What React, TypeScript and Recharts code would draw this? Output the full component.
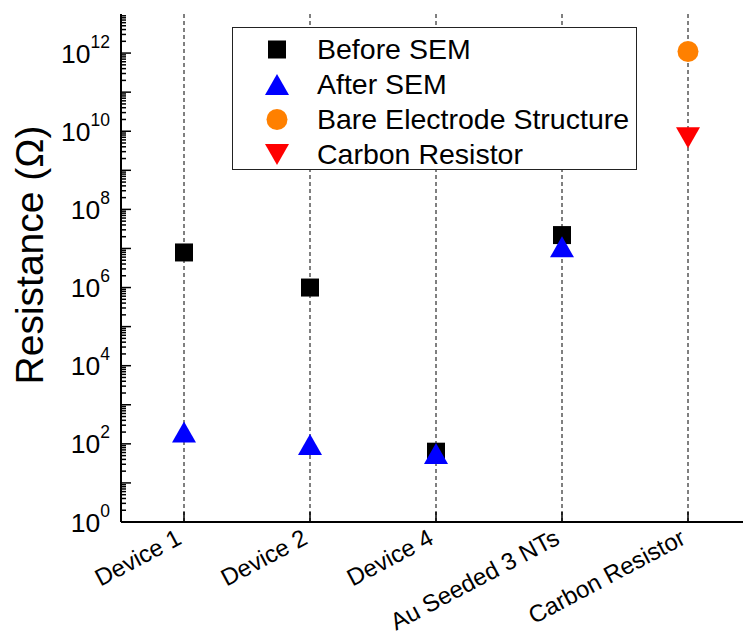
import { ComposedChart, Scatter, XAxis, YAxis, CartesianGrid, Legend } from 'recharts';

const categories = ['Device 1', 'Device 2', 'Device 4', 'Au Seeded 3 NTs', 'Carbon Resistor'];
const beforeSem = [7.9e6, 1.0e6, 63, 2.2e7, null];
const afterSem = [200, 96, 57, 1.1e7, null];
const bareElectrode = [null, null, null, null, 1.1e12];
const carbonResistor = [null, null, null, null, 6.8e9];

const decades = [0, 1, 2, 3, 4, 5, 6, 7, 8, 9, 10, 11, 12];
const labelledDecades = [0, 2, 4, 6, 8, 10, 12];
const minorSteps = [2, 3, 4, 5, 6, 7, 8, 9];

const FONT = '"Liberation Sans", Arial, sans-serif';

type Kind = 'square' | 'up' | 'circle' | 'down';

const series: { key: string; name: string; kind: Kind; color: string }[] = [
  { key: 'before', name: 'Before SEM', kind: 'square', color: '#000000' },
  { key: 'after', name: 'After SEM', kind: 'up', color: '#0000ff' },
  { key: 'bare', name: 'Bare Electrode Structure', kind: 'circle', color: '#ff8000' },
  { key: 'carbon', name: 'Carbon Resistor', kind: 'down', color: '#ff0000' },
];

const rows = categories.map((name, i) => ({
  name,
  before: beforeSem[i],
  after: afterSem[i],
  bare: bareElectrode[i],
  carbon: carbonResistor[i],
}));

const majorValues = decades.map((d) => Math.pow(10, d));
const yTicks = [
  ...majorValues,
  ...decades.flatMap((d) => minorSteps.map((m) => m * Math.pow(10, d))),
].sort((a, b) => a - b);

const isMajor = (v: number) => majorValues.some((m) => Math.abs(m - v) < m * 1e-9);
const exponentOf = (v: number) => Math.round(Math.log10(v));

const Marker = ({ kind, cx, cy, color }: { kind: Kind; cx: number; cy: number; color: string }) => {
  if (kind === 'square') return <rect x={cx - 9} y={cy - 9} width={18} height={18} fill={color} />;
  if (kind === 'circle') return <circle cx={cx} cy={cy} r={10.5} fill={color} />;
  if (kind === 'up')
    return <polygon points={`${cx},${cy - 10.5} ${cx + 12},${cy + 10.5} ${cx - 12},${cy + 10.5}`} fill={color} />;
  return <polygon points={`${cx - 12},${cy - 10.5} ${cx + 12},${cy - 10.5} ${cx},${cy + 10.5}`} fill={color} />;
};

const LeftTick = (props: any) => {
  const { x, y, payload } = props;
  const v = payload.value;
  const major = isMajor(v);
  const e = exponentOf(v);
  return (
    <g>
      <line x1={x} x2={x + (major ? 10 : 5)} y1={y} y2={y} stroke="#000" strokeWidth={1.5} />
      {major && labelledDecades.includes(e) && (
        <text x={x - 11} y={y + 9.5} textAnchor="end" fontFamily={FONT} fill="#000">
          <tspan fontSize={26.5}>10</tspan>
          <tspan fontSize={17.5} dy={-15}>{e}</tspan>
        </text>
      )}
    </g>
  );
};

const RightTick = (props: any) => {
  const { x, y, payload } = props;
  const major = isMajor(payload.value);
  return <line x1={x} x2={x - (major ? 10 : 5)} y1={y} y2={y} stroke="#000" strokeWidth={1.5} />;
};

const BottomTick = (props: any) => {
  const { x, y, payload } = props;
  const tx = x - 1;
  const ty = y + 21;
  return (
    <g>
      <line x1={x} x2={x} y1={y} y2={y - 10} stroke="#000" strokeWidth={1.5} />
      <text
        x={tx}
        y={ty}
        textAnchor="end"
        transform={`rotate(-28, ${tx}, ${ty})`}
        fontSize={24}
        fontFamily={FONT}
        fill="#000"
      >
        {payload.value}
      </text>
    </g>
  );
};

const TopTick = (props: any) => {
  const { x, y } = props;
  return <line x1={x} x2={x} y1={y} y2={y + 10} stroke="#000" strokeWidth={1.5} />;
};

const YLabel = () => (
  <text
    x={43}
    y={255}
    transform="rotate(-90, 43, 255)"
    textAnchor="middle"
    fontSize={39}
    fontFamily={FONT}
    fill="#000"
  >
    Resistance (Ω)
  </text>
);

const LegendBox = () => (
  <div
    style={{
      width: 405,
      height: 143,
      border: '1px solid #222',
      background: '#fff',
      boxSizing: 'border-box',
      position: 'relative',
      fontFamily: FONT,
    }}
  >
    {series.map((s, i) => (
      <div
        key={s.key}
        style={{ position: 'absolute', left: 0, top: 21.5 + i * 35 - 17.5, height: 35, display: 'flex', alignItems: 'center' }}
      >
        <svg width={84} height={35}>
          <Marker kind={s.kind} cx={44} cy={17.5} color={s.color} />
        </svg>
        <span style={{ fontSize: 28.5, lineHeight: '35px', color: '#000', whiteSpace: 'nowrap' }}>{s.name}</span>
      </div>
    ))}
  </div>
);

export default function App() {
  return (
    <div style={{ position: 'absolute', left: 0, top: 0, width: 743, height: 634, overflow: 'hidden', background: '#fff' }}>
      <ComposedChart width={765} height={634} data={rows} margin={{ top: 14, right: 14, bottom: 0, left: 0 }}>
        <CartesianGrid xAxisId="bottom" yAxisId="left" horizontal={false} strokeDasharray="4 3" stroke="#000" />
        <XAxis
          xAxisId="bottom"
          dataKey="name"
          type="category"
          interval={0}
          height={112}
          padding={{ left: 63, right: 63 }}
          tickLine={false}
          tickSize={0}
          tickMargin={0}
          tick={BottomTick}
          axisLine={{ stroke: '#000', strokeWidth: 2 }}
        />
        <XAxis
          xAxisId="top"
          orientation="top"
          dataKey="name"
          type="category"
          interval={0}
          height={0}
          padding={{ left: 63, right: 63 }}
          tickLine={false}
          tickSize={0}
          tickMargin={0}
          tick={TopTick}
          axisLine={{ stroke: '#000', strokeWidth: 2 }}
        />
        <YAxis
          yAxisId="left"
          type="number"
          scale="log"
          domain={[1, 1e13]}
          allowDataOverflow
          ticks={yTicks}
          interval={0}
          width={121}
          tickLine={false}
          tickSize={0}
          tickMargin={0}
          tick={LeftTick}
          axisLine={{ stroke: '#000', strokeWidth: 2 }}
          label={YLabel}
        />
        <YAxis
          yAxisId="right"
          orientation="right"
          type="number"
          scale="log"
          domain={[1, 1e13]}
          allowDataOverflow
          ticks={yTicks}
          interval={0}
          width={0}
          tickLine={false}
          tickSize={0}
          tickMargin={0}
          tick={RightTick}
          axisLine={{ stroke: '#000', strokeWidth: 2 }}
        />
        {series.map((s) => (
          <Scatter
            key={s.key}
            xAxisId="bottom"
            yAxisId="left"
            dataKey={s.key}
            name={s.name}
            isAnimationActive={false}
            shape={(p: any) => {
              const v = p.payload ? p.payload[s.key] : null;
              if (v == null || !Number.isFinite(p.cx) || !Number.isFinite(p.cy)) return <g />;
              return <Marker kind={s.kind} cx={p.cx} cy={p.cy} color={s.color} />;
            }}
          />
        ))}
        <Legend
          layout="vertical"
          align="center"
          verticalAlign="middle"
          content={LegendBox}
          wrapperStyle={{ left: 232, top: 27, width: 405, height: 143 }}
        />
      </ComposedChart>
    </div>
  );
}
